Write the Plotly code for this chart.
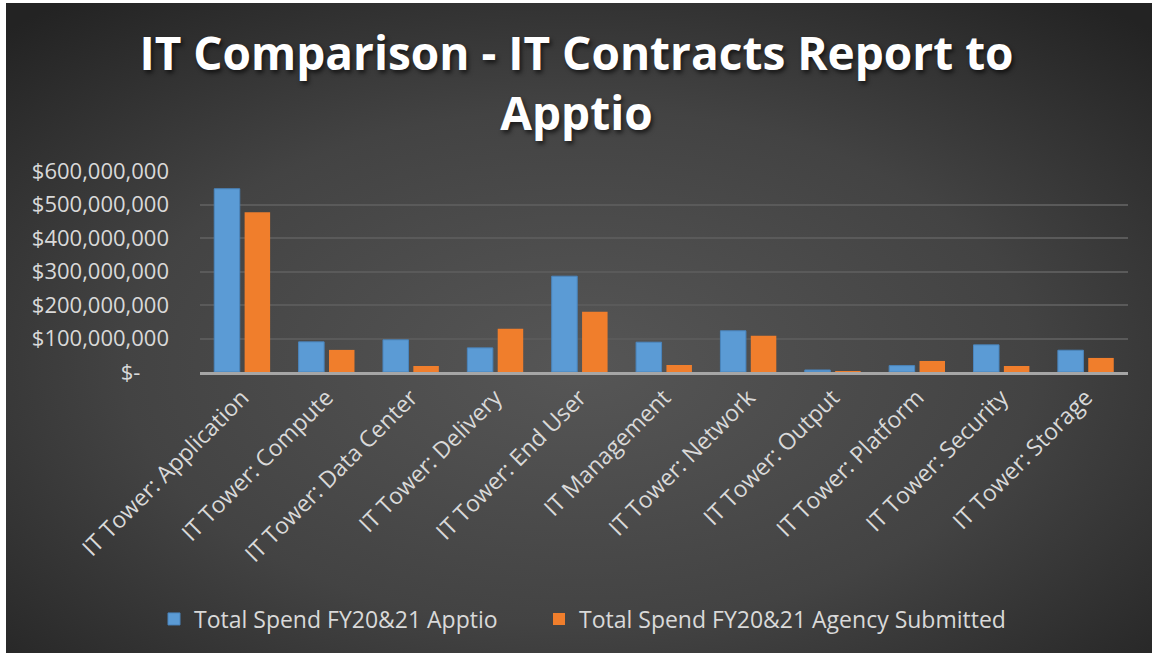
import base64
import plotly.graph_objects as go

categories = ["IT Tower: Application", "IT Tower: Compute", "IT Tower: Data Center",
              "IT Tower: Delivery", "IT Tower: End User", "IT Management",
              "IT Tower: Network", "IT Tower: Output", "IT Tower: Platform",
              "IT Tower: Security", "IT Tower: Storage"]
apptio = [547e6, 90e6, 96e6, 72e6, 286e6, 89e6, 123e6, 6e6, 19e6, 81e6, 65e6]
agency = [477e6, 66e6, 18e6, 129e6, 180e6, 21e6, 108e6, 3e6, 33e6, 18e6, 42e6]
series_names = ["Total Spend FY20&21 Apptio", "Total Spend FY20&21 Agency Submitted"]
tick_vals = [0, 1e8, 2e8, 3e8, 4e8, 5e8, 6e8]
tick_text = ["$-     ", "$100,000,000", "$200,000,000", "$300,000,000",
             "$400,000,000", "$500,000,000", "$600,000,000"]

W, H = 1153, 655
L, R, T, B = 200, 25, 171, 283
pw, ph = W - L - R, H - T - B

svg = ('<svg xmlns="http://www.w3.org/2000/svg" width="1146" height="650" viewBox="0 0 1146 650" preserveAspectRatio="none">'
       '<defs><radialGradient id="g" cx="0.5" cy="0.56" r="0.72">'
       '<stop offset="0" stop-color="#565656"/><stop offset="0.55" stop-color="#434343"/>'
       '<stop offset="1" stop-color="#232323"/></radialGradient></defs>'
       '<rect x="0" y="0" width="1146" height="650" fill="url(#g)"/></svg>')
src = "data:image/svg+xml;base64," + base64.b64encode(svg.encode()).decode()

fig = go.Figure()
fig.add_trace(go.Bar(x=categories, y=apptio, name=series_names[0], legend="legend",
                     showlegend=True,
                     marker=dict(color="#5b9bd5", line=dict(color="#4a85bd", width=1))))
fig.add_trace(go.Bar(x=categories, y=agency, name=series_names[1], legend="legend2",
                     showlegend=True,
                     marker=dict(color="#f07e2c", line=dict(width=0))))

legend_common = dict(orientation="h", xref="container", xanchor="left",
                     yref="container", y=1 - 619 / H, yanchor="middle",
                     font=dict(size=23, color="#d9d9d9"), bgcolor="rgba(0,0,0,0)")

fig.update_layout(
    width=W, height=H,
    showlegend=True,
    margin=dict(l=L, r=R, t=T, b=B, autoexpand=False),
    paper_bgcolor="white",
    plot_bgcolor="rgba(0,0,0,0)",
    barmode="group", bargap=0.28, bargroupgap=0.16,
    title=dict(text="IT Comparison - IT Contracts Report to<br>Apptio",
               x=0.5, xref="container", xanchor="center",
               y=1 - 70 / H, yref="container", yanchor="top",
               font=dict(family="Open Sans", size=46, color="white", weight="bold",
                         shadow="2px 3px 4px rgba(0,0,0,0.6)")),
    font=dict(family="Open Sans", color="#d9d9d9"),
    xaxis=dict(tickangle=-45, tickfont=dict(size=23, color="#d9d9d9"),
               showline=True, linecolor="#a6a6a6", linewidth=3, showgrid=False,
               ticks="", automargin=False),
    yaxis=dict(range=[0, 6e8], tickvals=tick_vals, ticktext=tick_text,
               tickfont=dict(size=22, color="#d9d9d9"),
               showgrid=True, gridcolor="#5a5a5a", gridwidth=2,
               zeroline=False, showline=False, ticklabelstandoff=30, automargin=False),
    legend=dict(x=154 / W, **legend_common),
    legend2=dict(x=539 / W, **legend_common),
    images=[dict(source=src, xref="paper", yref="paper",
                 x=(6 - L) / pw, y=1 + (T - 3) / ph,
                 sizex=(1152 - 6) / pw, sizey=(653 - 3) / ph,
                 xanchor="left", yanchor="top", sizing="stretch", layer="below")],
)

fig.write_html("out.html", config={"displayModeBar": False},
               post_script="document.body.style.margin='0';")
